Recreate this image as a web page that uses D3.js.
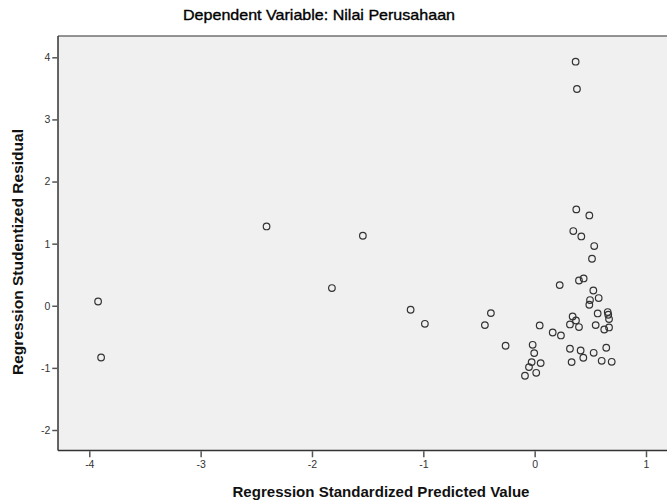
<!DOCTYPE html>
<html>
<head>
<meta charset="utf-8">
<script src="https://cdn.jsdelivr.net/npm/d3@7"></script>
<style>
  html, body { margin: 0; padding: 0; background: #ffffff; }
  svg { display: block; }
  text { font-family: Arial, "Liberation Sans", sans-serif; }
</style>
</head>
<body>
<svg id="chart" width="667" height="502"></svg>
<script>
const chartTitle = "Dependent Variable: Nilai Perusahaan";
const xTitle = "Regression Standardized Predicted Value";
const yTitle = "Regression Studentized Residual";

const xTicks = [-4, -3, -2, -1, 0, 1];
const yTicks = [-2, -1, 0, 1, 2, 3, 4];

// Regression Standardized Predicted Value
const predicted = [
  -3.921, -3.894, -2.408, -1.543, -1.821, -1.114, -0.986,
  0.368, 0.380, 0.374, 0.491, 0.347, 0.419, 0.535, 0.515, 0.440, 0.398, 0.225,
  0.527, 0.575, 0.497, 0.491, -0.393, -0.447, 0.566, 0.656, 0.661, 0.668,
  0.341, 0.371, 0.317, 0.398, 0.045, 0.548, 0.625, 0.668, 0.162, 0.236,
  -0.261, -0.018, -0.004, -0.027, 0.054, -0.051, 0.014, -0.087,
  0.317, 0.413, 0.437, 0.332, 0.530, 0.643, 0.602, 0.692
];
// Regression Studentized Residual
const residual = [
  0.069, -0.833, 1.277, 1.127, 0.285, -0.064, -0.290,
  3.929, 3.490, 1.551, 1.454, 1.203, 1.116, 0.961, 0.757, 0.440, 0.407, 0.333,
  0.246, 0.124, 0.092, 0.016, -0.118, -0.311, -0.124, -0.101, -0.145, -0.214,
  -0.172, -0.237, -0.301, -0.343, -0.317, -0.311, -0.382, -0.349, -0.430, -0.478,
  -0.644, -0.628, -0.762, -0.907, -0.923, -0.987, -1.079, -1.127,
  -0.692, -0.720, -0.837, -0.907, -0.757, -0.676, -0.886, -0.902
];

const points = predicted.map((v, i) => ({ x: v, y: residual[i] }));

const svg = d3.select("#chart");
const plot = { left: 58, right: 667, top: 36, bottom: 450.5 };

// scale: -4 -> 89.3, 1 -> 646 ; 4 -> 57.3, -2 -> 430
const xPerUnit = (646 - 89.3) / 5;
const yPerUnit = (430 - 57.3) / 6;
const x0 = 89.3 + 4 * xPerUnit;
const y0 = 57.3 + 4 * yPerUnit;

const x = d3.scaleLinear()
  .domain([(plot.left - x0) / xPerUnit, (plot.right - x0) / xPerUnit])
  .range([plot.left, plot.right]);
const y = d3.scaleLinear()
  .domain([(y0 - plot.bottom) / yPerUnit, (y0 - plot.top) / yPerUnit])
  .range([plot.bottom, plot.top]);

// plot background
svg.append("rect")
  .attr("x", plot.left).attr("y", plot.top)
  .attr("width", plot.right - plot.left).attr("height", plot.bottom - plot.top)
  .attr("fill", "#f0f0f0");

// frame
svg.append("line").attr("x1", plot.left).attr("x2", plot.right)
  .attr("y1", plot.top).attr("y2", plot.top)
  .attr("stroke", "#707070").attr("stroke-width", 1.5);
svg.append("line").attr("x1", plot.left).attr("x2", plot.left)
  .attr("y1", plot.top).attr("y2", plot.bottom)
  .attr("stroke", "#333").attr("stroke-width", 1.5);
svg.append("line").attr("x1", plot.left).attr("x2", plot.right)
  .attr("y1", plot.bottom).attr("y2", plot.bottom)
  .attr("stroke", "#333").attr("stroke-width", 1.5);

const fmt = d => String(d);

// axes
const xAxis = d3.axisBottom(x).tickValues(xTicks).tickSize(6).tickSizeOuter(0).tickPadding(3)
  .tickFormat(fmt);
const gx = svg.append("g").attr("transform", `translate(0,${plot.bottom + 0.75})`).call(xAxis);
gx.select(".domain").remove();
gx.selectAll(".tick line").attr("stroke", "#555").attr("stroke-width", 1.5);
gx.selectAll(".tick text").attr("fill", "#333").attr("font-size", 10.5);

const yAxis = d3.axisLeft(y).tickValues(yTicks).tickSize(5).tickSizeOuter(0).tickPadding(2)
  .tickFormat(fmt);
const gy = svg.append("g").attr("transform", `translate(${plot.left - 0.75},0)`).call(yAxis);
gy.select(".domain").remove();
gy.selectAll(".tick line").attr("stroke", "#555").attr("stroke-width", 1.5);
gy.selectAll(".tick text").attr("fill", "#333").attr("font-size", 10.5);

// points
svg.append("g").selectAll("circle").data(points).join("circle")
  .attr("cx", d => x(d.x)).attr("cy", d => y(d.y))
  .attr("r", 3.3)
  .attr("fill", "none")
  .attr("stroke", "#333")
  .attr("stroke-width", 1.2);

// titles
svg.append("text")
  .attr("x", 319).attr("y", 19.5)
  .attr("text-anchor", "middle")
  .attr("font-size", 15)
  .attr("textLength", 272)
  .attr("lengthAdjust", "spacingAndGlyphs")
  .attr("fill", "#000")
  .attr("stroke", "#000")
  .attr("stroke-width", 0.35)
  .text(chartTitle);

svg.append("text")
  .attr("x", 381).attr("y", 497)
  .attr("text-anchor", "middle")
  .attr("font-size", 15)
  .attr("font-weight", "bold")
  .attr("textLength", 297)
  .attr("lengthAdjust", "spacingAndGlyphs")
  .attr("fill", "#111")
  .text(xTitle);

svg.append("text")
  .attr("transform", "translate(23,252) rotate(-90)")
  .attr("text-anchor", "middle")
  .attr("font-size", 15)
  .attr("font-weight", "bold")
  .attr("textLength", 246)
  .attr("lengthAdjust", "spacingAndGlyphs")
  .attr("fill", "#111")
  .text(yTitle);
</script>
</body>
</html>
